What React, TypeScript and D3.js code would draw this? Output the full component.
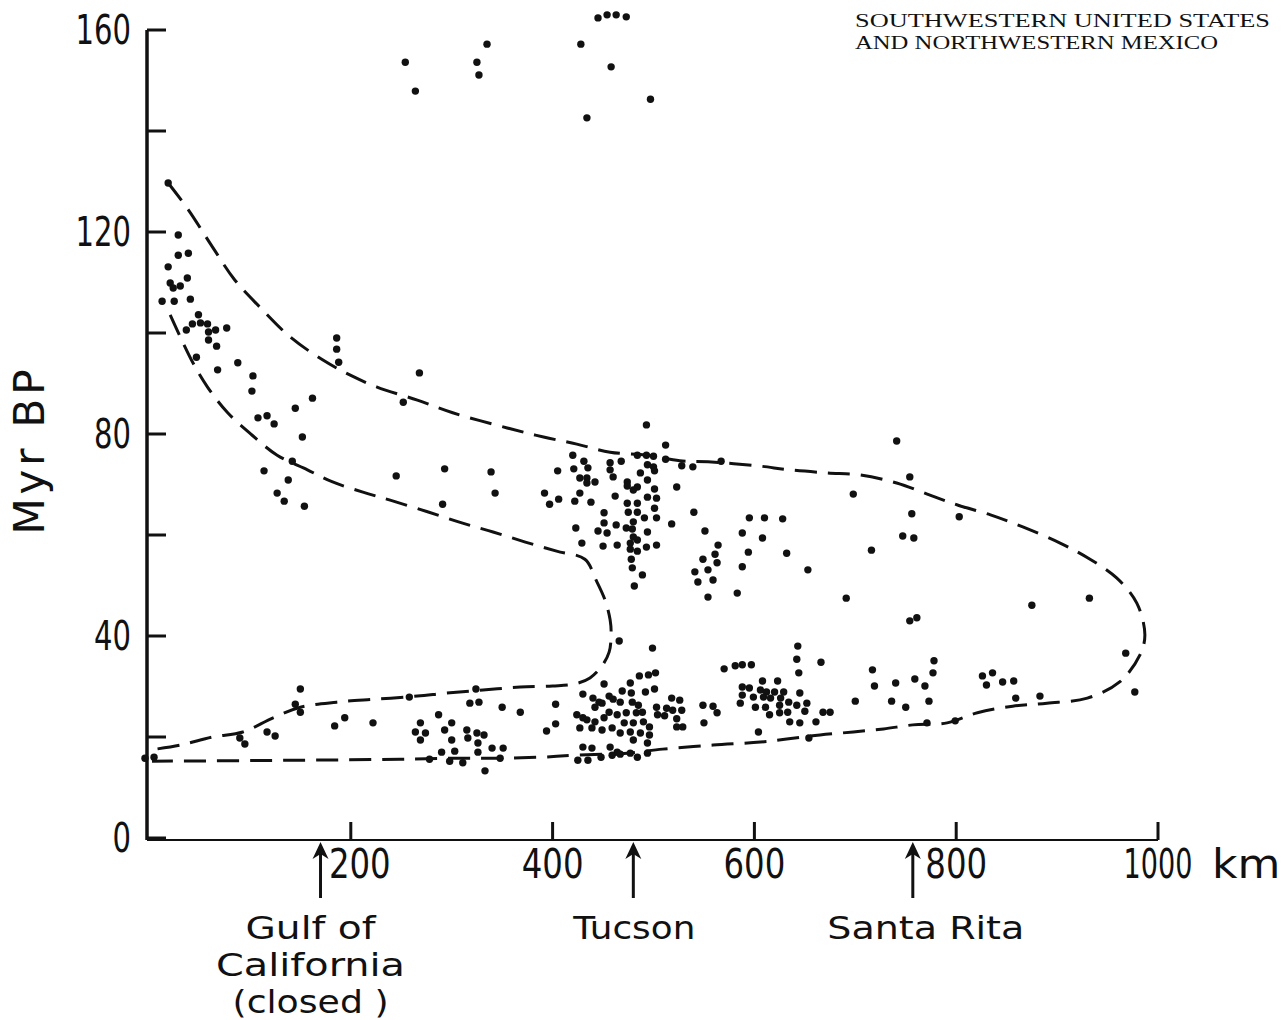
import React from "react";
import * as d3 from "d3";

const W = 1287;
const H = 1020;

// ---------- axis ticks ----------
const distTicks = [200, 400, 600, 800, 1000];
const distTickLabels = ["200", "400", "600", "800", "1000"];
const distUnit = "km";
const ageTicks = [0, 20, 40, 60, 80, 100, 120, 140, 160];
const ageLabels = [0, 40, 80, 120, 160];

// ---------- localities (km) ----------
const localityNames = [["Gulf of", "California", "(closed )"], ["Tucson"], ["Santa Rita"]];
const localityKm = [170, 480, 757];

const titleLines = ["SOUTHWESTERN UNITED STATES", "AND NORTHWESTERN MEXICO"];

// ---------- dashed envelopes [km, Myr] ----------
const outerEnvelope: [number, number][] = [
  [19, 129.7], [39, 124.4], [63, 117], [85, 110.5], [110, 105.1], [140, 99.2], [172, 94.7],
  [199, 91.7], [226, 89.3], [266, 86.7], [301, 84.2], [355, 81.2], [391, 79.4], [424, 78],
  [457, 76.4], [494, 75.8], [526, 74.7], [554, 74.5], [603, 73.7], [635, 72.9], [672, 72.3],
  [705, 71.9], [741, 70.3], [774, 67.9], [802, 65.9], [834, 64], [866, 61.6], [903, 58.4],
  [931, 55.4], [959, 51.5], [979, 46.5], [987, 40.2], [982, 36.2], [962, 30.9], [930, 27.7],
  [890, 26.7], [856, 26.1], [821, 24.8], [791, 22.8], [757, 22.4], [728, 21.6], [698, 21],
  [665, 20.4], [632, 19.6], [606, 19], [559, 18.4], [509, 17.6], [474, 16.8], [424, 16.4],
  [388, 16], [345, 15.8], [301, 15.8], [249, 15.6], [150, 15.4], [3, 15.2],
];

const innerEnvelope: [number, number][] = [
  [21, 103.6], [43, 94.3], [58, 89.3], [78, 84.2], [102, 79.8], [127, 75.8], [157, 72.9],
  [182, 70.5], [212, 68.5], [239, 66.9], [276, 64.6], [310, 62.4], [341, 60.6], [373, 58.6],
  [404, 56.8], [432, 55.2], [443, 51.1], [452, 47.1], [457, 43.2], [458, 40.2], [456, 36.8],
  [449, 34.1], [437, 31.7], [422, 30.5], [400, 30.1], [368, 29.9], [331, 29.3], [295, 28.7],
  [266, 28.1], [226, 27.5], [186, 26.9], [150, 25.9], [123, 23.8], [93, 21], [63, 20],
  [31, 18.4], [0, 17.4],
];

// ---------- radiometric dates [km, Myr] ----------
const jurassicDates: [number, number][] = [
  [254, 153.6], [264, 147.9], [325, 153.6], [327, 151.1], [335, 157.2], [428, 157.2],
  [445, 162.4], [454, 163], [463, 163], [473, 162.6], [458, 152.7], [497, 146.3], [434, 142.6],
];

const cretaceousDates: [number, number][] = [
  [19, 129.7], [29, 119.4], [29, 115.4], [39, 115.8], [19, 113.1], [38, 110.9], [21, 109.9],
  [24, 108.9], [31, 109.3], [13, 106.3], [25, 106.3], [41, 106.7], [49, 103.6], [43, 101.8],
  [51, 102], [58, 101.8], [37, 100.6], [59, 100.2], [66, 100.6], [77, 101], [59, 98.6],
  [67, 97.4], [47, 95.2], [68, 92.7], [88, 94.1], [103, 91.5], [102, 88.5], [162, 87.1],
  [145, 85.1], [186, 99], [186, 96.8], [188, 94.2], [268, 92.1], [252, 86.3], [108, 83.2],
  [117, 83.6], [124, 82], [152, 79.4], [142, 74.6], [114, 72.7], [138, 70.9], [127, 68.3],
  [134, 66.7], [154, 65.7], [245, 71.7], [293, 73.1], [291, 66.1], [339, 72.5], [343, 68.3],
];

const laramideDates: [number, number][] = [
  [493, 81.8], [512, 77.8], [420, 75.8], [431, 74.6], [421, 73.1], [435, 73.3], [405, 72.7],
  [427, 71.3], [434, 71.3], [442, 70.5], [434, 70.3], [392, 68.3], [406, 67.1], [397, 66.1],
  [422, 66.7], [438, 66.5], [427, 68.3], [457, 74.3], [468, 74.6], [457, 72.9], [460, 71.5],
  [474, 70.5], [474, 69.7], [484, 75.8], [493, 75.8], [500, 75.6], [494, 73.9], [500, 73.5],
  [501, 72.7], [487, 72.3], [494, 70.9], [484, 69.5], [480, 68.9], [501, 69.1], [462, 67.7],
  [494, 67.5], [503, 67.3], [474, 66.3], [484, 66.3], [501, 65.3], [451, 64.4], [475, 64.5],
  [484, 64.5], [491, 63.4], [503, 63.4], [423, 61.4], [451, 62.4], [463, 62], [454, 60.4],
  [445, 60.8], [480, 62.6], [473, 61.4], [479, 61.2], [480, 59.6], [484, 59], [494, 60.6],
  [429, 58.4], [450, 57.8], [464, 58], [477, 58.4], [477, 57.2], [484, 56.8], [493, 57.6],
  [503, 58], [478, 55.2], [479, 53.5], [489, 52.1], [481, 49.9], [512, 75], [528, 73.7],
  [539, 73.5], [567, 74.6], [523, 69.5], [540, 64.5], [518, 62.2], [551, 60.8], [564, 58],
  [561, 56.2], [549, 55.2], [563, 54.5], [541, 52.7], [554, 53.1], [544, 50.7], [559, 51.1],
  [554, 47.7], [595, 63.4], [610, 63.4], [628, 63.2], [588, 60.4], [608, 59.4], [594, 56.6],
  [632, 56.4], [588, 53.7], [583, 48.5], [653, 53.1], [691, 47.5], [741, 78.6], [754, 71.5],
  [698, 68.1], [756, 64.2], [747, 59.8], [758, 59.4], [803, 63.6], [716, 57], [875, 46.1],
  [932, 47.5], [754, 43], [761, 43.6], [968, 36.6], [977, 28.9],
];

const tertiaryDates: [number, number][] = [
  [466, 39], [499, 37.6], [643, 38], [642, 35.4], [666, 34.8], [644, 32.7], [570, 33.5],
  [581, 34.1], [588, 34.3], [597, 34.3], [502, 32.7], [495, 32.3], [486, 32.1], [324, 29.5],
  [258, 27.9], [451, 30.5], [477, 30.7], [430, 28.5], [492, 28.9], [501, 29.5], [469, 29.1],
  [478, 28.7], [456, 28.1], [440, 27.7], [446, 26.9], [460, 27.5], [449, 26.7], [467, 26.9],
  [479, 26.9], [485, 26.3], [442, 25.9], [318, 26.7], [327, 26.9], [350, 25.9], [368, 24.9],
  [403, 26.5], [424, 24.4], [430, 23.8], [434, 23.4], [442, 23], [451, 23.8], [456, 24.9],
  [464, 24.4], [473, 24.8], [483, 24.8], [489, 24.9], [503, 25.9], [513, 25.7], [518, 27.7],
  [526, 27.3], [519, 25.3], [528, 25.3], [504, 24.4], [511, 24.2], [523, 23.6], [523, 22],
  [529, 22], [427, 21.8], [439, 21.8], [449, 21.4], [459, 21.8], [471, 22.8], [480, 22.8],
  [490, 23], [496, 22], [477, 21], [487, 20.8], [496, 20.4], [467, 20.8], [480, 19.4],
  [494, 18.8], [430, 18], [439, 17.8], [457, 18], [464, 17], [467, 16.6], [477, 16.8],
  [425, 15.4], [435, 15.4], [448, 16], [459, 16.4], [484, 16], [494, 16.8], [394, 21.2],
  [403, 22.6], [549, 26.3], [559, 26.1], [563, 24.8], [550, 22.8], [588, 29.9], [595, 29.7],
  [608, 31.1], [623, 31.1], [606, 29.3], [612, 28.9], [620, 28.9], [629, 28.9], [645, 28.7],
  [588, 28.3], [599, 27.9], [609, 27.9], [616, 27.7], [626, 27.7], [634, 26.9], [586, 26.7],
  [601, 25.9], [611, 25.9], [625, 26.3], [642, 26.3], [652, 26.7], [615, 24.4], [625, 24.8],
  [633, 24.9], [650, 25.1], [668, 24.9], [675, 24.9], [635, 23], [645, 22.8], [661, 23],
  [604, 21], [654, 19.8], [269, 22.8], [264, 21], [274, 20.8], [269, 19.4], [287, 24.4],
  [293, 21.4], [300, 22.8], [300, 19.4], [315, 21.4], [325, 20.8], [316, 19.8], [326, 18.8],
  [332, 20.4], [340, 17.8], [351, 17.8], [290, 17], [303, 17.2], [326, 17], [278, 15.6],
  [298, 15.2], [311, 14.9], [333, 13.3], [348, 15.8], [150, 29.5], [145, 26.5], [150, 24.9],
  [95, 18.6], [90, 19.8], [117, 21], [125, 20.2], [184, 22.2], [194, 23.8], [222, 22.8],
  [-4, 15.8], [5, 16], [778, 35.1], [777, 32.7], [717, 33.3], [719, 30.1], [740, 30.7],
  [759, 31.5], [769, 30.1], [700, 27.1], [736, 27.1], [750, 25.9], [773, 27.1], [826, 32.1],
  [836, 32.7], [830, 30.3], [846, 30.9], [857, 31.1], [859, 27.7], [883, 28.1], [771, 22.8],
  [799, 23.2],
];

const LETTER = "'DejaVu Sans', 'Liberation Sans', sans-serif";

export default function App() {
  const x = d3.scaleLinear().domain([0, 1000]).range([149, 1158]);
  const y = d3.scaleLinear().domain([0, 160]).range([838, 30]);

  const axisX = x(0) - 2;
  const axisY = y(0) + 2;

  const line = d3
    .line<[number, number]>()
    .x((d) => x(d[0]))
    .y((d) => y(d[1]))
    .curve(d3.curveCatmullRom.alpha(0.5));

  const allDates = [...jurassicDates, ...cretaceousDates, ...laramideDates, ...tertiaryDates];

  const digitW = 18.5;
  const labelDx: Record<number, number> = { 200: 9 };
  const localityDx = [-10, 1, 13];
  const localityWidths = [[130, 189, 156], [122], [197]];

  return (
    <svg
      width={W}
      height={H}
      viewBox={`0 0 ${W} ${H}`}
      style={{ position: "absolute", left: 0, top: 0, display: "block", background: "#fff" }}
    >
      <rect x={0} y={0} width={W} height={H} fill="#fff" />

      {/* title */}
      {titleLines.map((t, i) => (
        <text
          key={t}
          x={855}
          y={27 + i * 22}
          fontFamily="'Liberation Serif', 'Times New Roman', serif"
          fontSize={19}
          textLength={i === 0 ? 415 : 363}
          lengthAdjust="spacingAndGlyphs"
          fill="#111"
        >
          {t}
        </text>
      ))}

      {/* axes */}
      <line x1={axisX} x2={axisX} y1={y(160)} y2={axisY} stroke="#111" strokeWidth={3.5} />
      <line x1={axisX} x2={x(1000)} y1={axisY} y2={axisY} stroke="#111" strokeWidth={2.2} />

      {ageTicks.map((t) => (
        <line key={"yt" + t} x1={axisX} x2={axisX + 19} y1={y(t)} y2={y(t)} stroke="#111" strokeWidth={3} />
      ))}
      {ageLabels.map((t) => {
        const s = String(t);
        return (
          <text
            key={"yl" + t}
            x={131}
            y={y(t) + 14}
            textAnchor="end"
            fontFamily={LETTER}
            fontSize={40}
            textLength={s.length * digitW}
            lengthAdjust="spacingAndGlyphs"
            fill="#111"
          >
            {s}
          </text>
        );
      })}

      {distTicks.map((t) => (
        <line key={"xt" + t} x1={x(t)} x2={x(t)} y1={axisY} y2={axisY - 18} stroke="#111" strokeWidth={3} />
      ))}
      {distTicks.map((t, i) => {
        const s = distTickLabels[i];
        const sx = s.length === 4 ? 0.66 : 0.79;
        return (
          <text
            key={"xl" + t}
            transform={`translate(${x(t) + (labelDx[t] || 0)}, 878) scale(${sx}, 1)`}
            textAnchor="middle"
            fontFamily={LETTER}
            fontSize={41}
            fill="#111"
          >
            {s}
          </text>
        );
      })}
      <text
        transform={`translate(${x(1000) + 54}, 878) scale(1.1, 1)`}
        fontFamily={LETTER}
        fontSize={40}
        fill="#111"
      >
        {distUnit}
      </text>

      {/* y axis title */}
      <text
        transform={`translate(44, 452) rotate(-90)`}
        textAnchor="middle"
        fontFamily={LETTER}
        fontSize={42}
        textLength={165}
        lengthAdjust="spacing"
        fill="#111"
      >
        Myr BP
      </text>

      {/* locality arrows and names */}
      {localityKm.map((km, i) => {
        const ax = x(km);
        return (
          <g key={"loc" + i}>
            <line x1={ax} x2={ax} y1={axisY + 10} y2={axisY + 58} stroke="#111" strokeWidth={3} />
            <path
              d={`M${ax},${axisY + 2} L${ax - 8},${axisY + 19} L${ax},${axisY + 14} L${ax + 8},${axisY + 19} Z`}
              fill="#111"
            />
            {localityNames[i].map((ln, j) => (
              <text
                key={ln}
                x={ax + localityDx[i]}
                y={939 + j * 37}
                textAnchor="middle"
                fontFamily={LETTER}
                fontSize={32}
                textLength={localityWidths[i][j]}
                lengthAdjust="spacingAndGlyphs"
                fill="#111"
              >
                {ln}
              </text>
            ))}
          </g>
        );
      })}

      {/* dashed envelopes */}
      <path d={line(outerEnvelope) || ""} fill="none" stroke="#111" strokeWidth={3} strokeDasharray="22 11" />
      <path d={line(innerEnvelope) || ""} fill="none" stroke="#111" strokeWidth={3} strokeDasharray="22 11" />

      {/* dates */}
      {allDates.map((d, i) => (
        <circle key={"p" + i} cx={x(d[0])} cy={y(d[1])} r={3.7} fill="#111" />
      ))}
    </svg>
  );
}
